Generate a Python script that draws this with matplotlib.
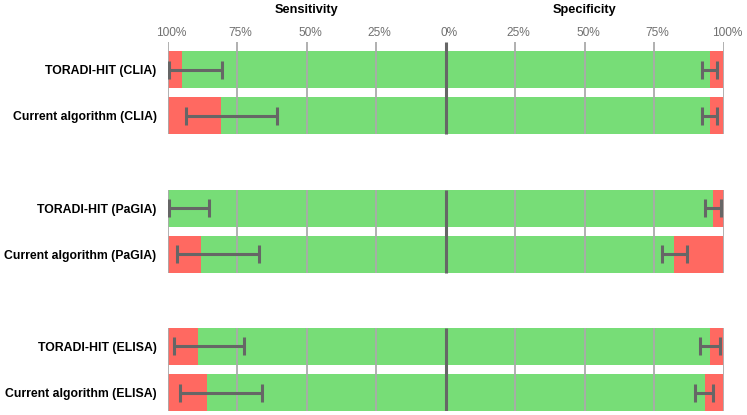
import numpy as np
import matplotlib
matplotlib.use("Agg")
from matplotlib import pyplot as plt
from matplotlib.transforms import ScaledTranslation

plt.rcParams['font.family'] = ['Liberation Sans', 'DejaVu Sans']

labels = ["TORADI-HIT (CLIA)", "Current algorithm (CLIA)",
          "TORADI-HIT (PaGIA)", "Current algorithm (PaGIA)",
          "TORADI-HIT (ELISA)", "Current algorithm (ELISA)"]
rows = [0, 1, 3, 4, 6, 7]

sens = [95.0, 81.0, 100.0, 88.1, 89.0, 85.9]
sens_lo = [80.5, 60.8, 85.3, 67.3, 72.4, 66.1]
sens_hi = [99.5, 93.4, 99.4, 96.7, 97.6, 95.5]

spec = [95.2, 95.2, 96.2, 82.2, 95.2, 93.2]
spec_lo = [92.3, 92.3, 93.5, 77.8, 91.6, 89.6]
spec_hi = [97.8, 97.8, 99.2, 86.9, 98.6, 96.4]

ticks = [-100, -75, -50, -25, 0, 25, 50, 75, 100]
tick_labels = ["100%", "75%", "50%", "25%", "0%", "25%", "50%", "75%", "100%"]

green = "#77dd77"
red = "#ff6961"
grey = "#666666"

y = np.array(rows)
sens = np.array(sens)
spec = np.array(spec)
sens_lo, sens_hi = np.array(sens_lo), np.array(sens_hi)
spec_lo, spec_hi = np.array(spec_lo), np.array(spec_hi)

fig = plt.figure(figsize=(7.47, 4.15), dpi=100)
ax = fig.add_axes([167.7/747, 4/415, (723.5-167.7)/747, 369/415])

h = 0.8
# sensitivity (left side, negative)
ax.barh(y, sens, left=-sens, height=h, color=green, zorder=1)
ax.barh(y, 100 - sens, left=-100, height=h, color=red, zorder=1)
# specificity (right side)
ax.barh(y, spec, left=0, height=h, color=green, zorder=1)
ax.barh(y, 100 - spec, left=spec, height=h, color=red, zorder=1)

# grid only inside each group of two bars
for g in range(3):
    top = -0.6 if g == 0 else 3*g - h/2
    bot = 3*g + 1 + h/2
    for t in ticks:
        if t == 0:
            ax.vlines(t, top, bot, color=grey, lw=2.2, zorder=4)
        else:
            ax.vlines(t, top, bot, color="#aaaaaa", lw=1.3, zorder=2)

# confidence intervals
ax.errorbar(-(sens_lo + sens_hi) / 2, y, xerr=(sens_hi - sens_lo) / 2, fmt='none',
            ecolor=grey, elinewidth=2.2, capsize=6.8, capthick=2.2, zorder=5)
ax.errorbar((spec_lo + spec_hi) / 2, y, xerr=(spec_hi - spec_lo) / 2, fmt='none',
            ecolor=grey, elinewidth=2.2, capsize=6.8, capthick=2.2, zorder=5)

ax.set_xlim(-100, 100)
ax.set_ylim(7.4, -0.6)
ax.xaxis.tick_top()
ax.set_xticks(ticks)
ax.set_xticklabels(tick_labels, color="#707070", fontsize=8.6)
ax.tick_params(axis='x', length=0, pad=2)
shift = ScaledTranslation(3.5/100, 0, fig.dpi_scale_trans)
for lab in ax.get_xticklabels():
    lab.set_transform(lab.get_transform() + shift)
ax.set_yticks(rows)
ax.set_yticklabels(labels, fontsize=8.8, fontweight='bold')
ax.tick_params(axis='y', length=0, pad=8)
for s in ax.spines.values():
    s.set_visible(False)

tr = ax.get_xaxis_transform()
ax.text(-50, 1 + 32/369, "Sensitivity", transform=tr, ha='center', va='center',
        fontsize=9.2, fontweight='bold')
ax.text(50, 1 + 32/369, "Specificity", transform=tr, ha='center', va='center',
        fontsize=9.2, fontweight='bold')

fig.savefig("out.png", dpi=100)
